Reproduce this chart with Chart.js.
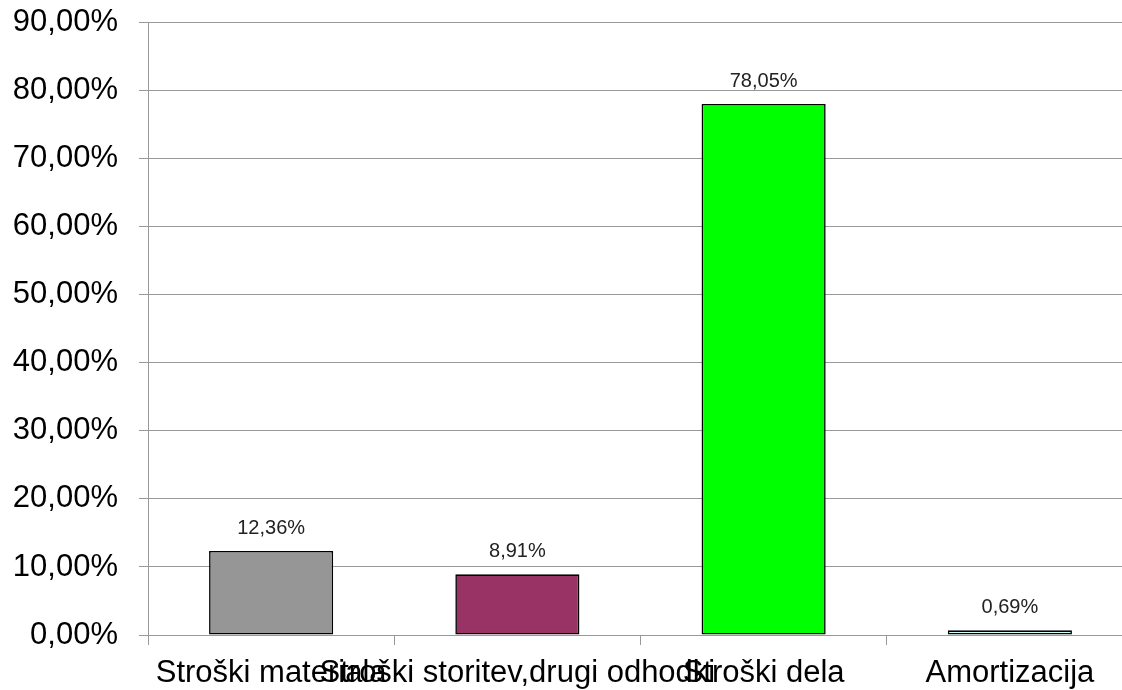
<!DOCTYPE html>
<html>
<head>
<meta charset="utf-8">
<script src="https://cdn.jsdelivr.net/npm/chart.js@4.4.1/dist/chart.umd.min.js"></script>
<style>
  html, body { margin: 0; padding: 0; background: #fff; overflow: hidden; }
  #wrap { width: 1122px; height: 690px; overflow: hidden; }
  #myChart { display: block; margin-top: -17px; }
</style>
</head>
<body>
<div id="wrap"><canvas id="myChart" width="1140" height="707"></canvas></div>
<script>
// chart data //
var categories = ['Stroški materiala', 'Stroški storitev,drugi odhodki', 'Stroški dela', 'Amortizacija'];
var shares = [12.36, 8.91, 78.05, 0.69];
var barColors = ['#969696', '#993366', '#00ff00', '#ccffff'];
var yMax = 90;
var yStep = 10;

function fmtPct(v) {
  return v.toFixed(2).replace('.', ',') + '%';
}

// draws the value above each bar
var valueLabels = {
  id: 'valueLabels',
  afterDatasetsDraw: function (chart) {
    var ctx = chart.ctx;
    var meta = chart.getDatasetMeta(0);
    ctx.save();
    ctx.font = '20px "Liberation Sans", Arial, sans-serif';
    ctx.fillStyle = '#222';
    ctx.textAlign = 'center';
    ctx.textBaseline = 'alphabetic';
    meta.data.forEach(function (bar, i) {
      ctx.fillText(fmtPct(shares[i]), bar.x, bar.y - 17);
    });
    ctx.restore();
  }
};

var ctx = document.getElementById('myChart').getContext('2d');
var myChart = new Chart(ctx, {
  type: 'bar',
  data: {
    labels: categories,
    datasets: [{
      data: shares,
      backgroundColor: barColors,
      borderColor: '#000',
      borderWidth: 1.6,
      borderSkipped: false,
      categoryPercentage: 1,
      barPercentage: 0.504
    }]
  },
  options: {
    responsive: false,
    animation: false,
    events: [],
    layout: { padding: { top: 6, right: 7, left: 0, bottom: 0 } },
    plugins: {
      legend: { display: false },
      tooltip: { enabled: false }
    },
    scales: {
      x: {
        offset: true,
        border: { color: '#999', width: 1 },
        grid: {
          offset: true,
          drawOnChartArea: false,
          drawTicks: true,
          tickLength: 10,
          color: '#999'
        },
        ticks: {
          autoSkip: false,
          maxRotation: 0,
          minRotation: 0,
          padding: 10,
          color: '#000',
          font: { family: '"Liberation Sans", Arial, sans-serif', size: 31 }
        },
        afterFit: function (scale) { scale.height = 55; }
      },
      y: {
        min: 0,
        max: yMax,
        border: { color: '#999', width: 1 },
        grid: {
          color: '#999',
          tickLength: 9
        },
        ticks: {
          stepSize: yStep,
          padding: 21,
          color: '#000',
          font: { family: '"Liberation Sans", Arial, sans-serif', size: 31 },
          callback: function (v) { return fmtPct(v); }
        },
        afterFit: function (scale) { scale.width = 148; }
      }
    }
  },
  plugins: [valueLabels]
});
</script>
</body>
</html>
